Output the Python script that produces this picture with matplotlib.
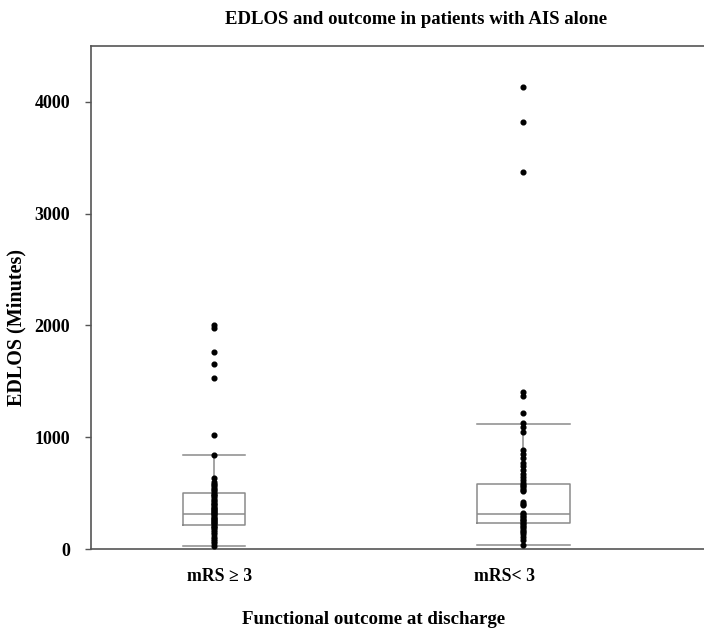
import numpy as np
import matplotlib
matplotlib.use("Agg")
import matplotlib.pyplot as plt

plt.rcParams['font.family'] = ['Liberation Serif', 'DejaVu Serif']
plt.rcParams['font.weight'] = 'bold'

# groups and box statistics (minutes)
groups = ['mRS \u2265 3', 'mRS< 3']
q1 = [218, 230]
med = [311, 311]
q3 = [499, 582]
whislo = [27, 38]
whishi = [845, 1116]

# individual patients, plotted as dots
pts_poor = [2005, 1980, 1764, 1656, 1531, 1021, 845, 638, 603, 585, 570, 555,
            540, 525, 510, 495, 482, 470, 455, 440, 428, 415, 400, 390, 380,
            370, 360, 350, 340, 330, 320, 311, 300, 290, 280, 270, 260, 250,
            240, 230, 220, 210, 198, 185, 170, 150, 130, 110, 90, 70, 50, 27]
pts_good = [4130, 3820, 3370, 1405, 1370, 1217, 1128, 1092, 1047, 886, 850,
            815, 770, 743, 707, 671, 644, 618, 590, 575, 560, 545, 530, 515,
            420, 405, 394, 322, 310, 298, 285, 272, 260, 248, 235, 222, 210,
            195, 180, 165, 150, 130, 107, 80, 38]

positions = [0.200, 0.705]
widths = [0.101, 0.152]

fig = plt.figure(figsize=(7.04, 6.31), dpi=100)
ax = fig.add_axes([91 / 704, 1 - 549 / 631, 613 / 704, 503 / 631])

stats = []
for i in range(2):
    stats.append(dict(med=med[i], q1=q1[i], q3=q3[i],
                      whislo=whislo[i], whishi=whishi[i], fliers=[]))

grey = '#8a8a8a'
ax.bxp(stats, positions=positions, widths=widths, showfliers=False,
       boxprops=dict(color=grey, lw=1.1),
       medianprops=dict(color=grey, lw=1.1),
       whiskerprops=dict(color=grey, lw=1.1),
       capprops=dict(color=grey, lw=1.1),
       capwidths=widths, manage_ticks=False)

for pos, pts in zip(positions, [pts_poor, pts_good]):
    ax.plot([pos] * len(pts), pts, 'o', color='black', ms=3.4, mec='black',
            zorder=3)

ax.set_xlim(0, 1)
ax.set_ylim(0, 4500)
ax.set_yticks([0, 1000, 2000, 3000, 4000])
ax.set_xticks([])
ax.tick_params(axis='y', length=4, width=1, color='#555555', labelsize=13,
               pad=11)
for lab in ax.get_yticklabels():
    lab.set_fontweight('bold')
ax.spines['right'].set_visible(False)
for s in ['left', 'top', 'bottom']:
    ax.spines[s].set_color('#555555')
    ax.spines[s].set_linewidth(1.2)

# category labels under the axis
label_x = [0.21, 0.674]
for x, g in zip(label_x, groups):
    ax.text(x, -0.054, g, transform=ax.transAxes, ha='center', va='center',
            fontsize=12.8, fontweight='bold')

fig.text(416 / 704, 1 - 20 / 631, 'EDLOS and outcome in patients with AIS alone',
         ha='center', va='center', fontsize=13.5, fontweight='bold')
fig.text(374 / 704, 1 - 620 / 631, 'Functional outcome at discharge',
         ha='center', va='center', fontsize=13.6, fontweight='bold')
fig.text(16 / 704, 1 - 328 / 631, 'EDLOS (Minutes)', rotation=90,
         ha='center', va='center', fontsize=14.5, fontweight='bold')

fig.savefig('out.png', dpi=100, facecolor='white')
